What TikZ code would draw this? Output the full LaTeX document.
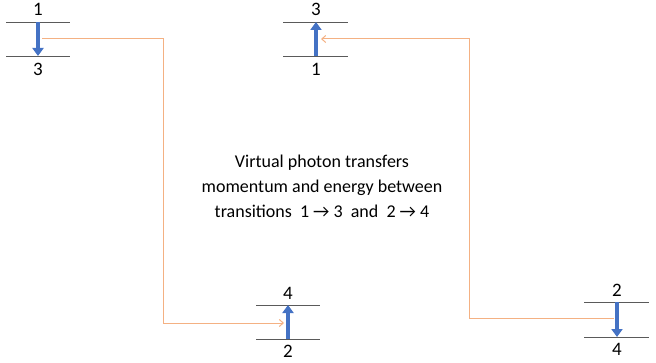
\documentclass[tikz,border=0pt]{standalone}
\usepackage{fontspec}
\setmainfont{Carlito}
\usetikzlibrary{arrows.meta}
\definecolor{lvl}{RGB}{90,90,90}
\definecolor{blu}{RGB}{68,114,196}
\definecolor{org}{RGB}{244,177,131}
\tikzset{
  level/.style={draw=lvl, line width=0.9pt},
  trans/.style={draw=blu, line width=4.5pt, -{Triangle[width=11pt,length=8pt]}},
  photon/.style={draw=org, line width=1pt, -{Straight Barb[length=4pt,width=7pt]}},
  lab/.style={font=\fontsize{19}{20}\selectfont, inner sep=0pt},
}
\begin{document}
\begin{tikzpicture}[x=1pt,y=1pt]
\useasboundingbox (0,0) rectangle (656,362);
% group 1 : 1 -> 3 (down)
\coordinate (g1t) at (38,340);
\coordinate (g1b) at (38,306);
\draw[level] (6,340) -- (70,340);
\draw[level] (6,306) -- (70,306);
\node[lab] (g1u) at (38,353) {1};
\node[lab] (g1d) at (38,293) {3};
\draw[trans] (g1t) -- (g1b);
% group 2 : 1 -> 3 (up)
\coordinate (g2t) at (316,340);
\coordinate (g2b) at (316,306);
\draw[level] (283,340) -- (348,340);
\draw[level] (283,306) -- (348,306);
\node[lab] (g2u) at (316,353) {3};
\node[lab] (g2d) at (316,293) {1};
\draw[trans] (g2b) -- (g2t);
% group 3 : 2 -> 4 (up)
\coordinate (g3t) at (288,57);
\coordinate (g3b) at (288,23);
\draw[level] (256,57) -- (320,57);
\draw[level] (256,23) -- (320,23);
\node[lab] (g3u) at (288,69) {4};
\node[lab] (g3d) at (288,11) {2};
\draw[trans] (g3b) -- (g3t);
% group 4 : 2 -> 4 (down)
\coordinate (g4t) at (617,60);
\coordinate (g4b) at (617,25);
\draw[level] (584,60) -- (649,60);
\draw[level] (584,25) -- (649,25);
\node[lab] (g4u) at (617,72) {2};
\node[lab] (g4d) at (617,13) {4};
\draw[trans] (g4t) -- (g4b);
% virtual photons
\coordinate (p1s) at (42,323);
\coordinate (p1e) at (284,39);
\coordinate (p2s) at (614,44);
\coordinate (p2e) at (321,323);
\draw[photon] (p1s) -- (163,323) -- (163,39) -- (p1e);
\draw[photon] (p2s) -- (469,44) -- (469,323) -- (p2e);
% text
\node[font=\fontsize{18}{25}\selectfont, align=center] (txt) at (322,176)
  {Virtual photon transfers\\ momentum and energy between\\ transitions \ 1 → 3 \ and \ 2 → 4};
\end{tikzpicture}
\end{document}
